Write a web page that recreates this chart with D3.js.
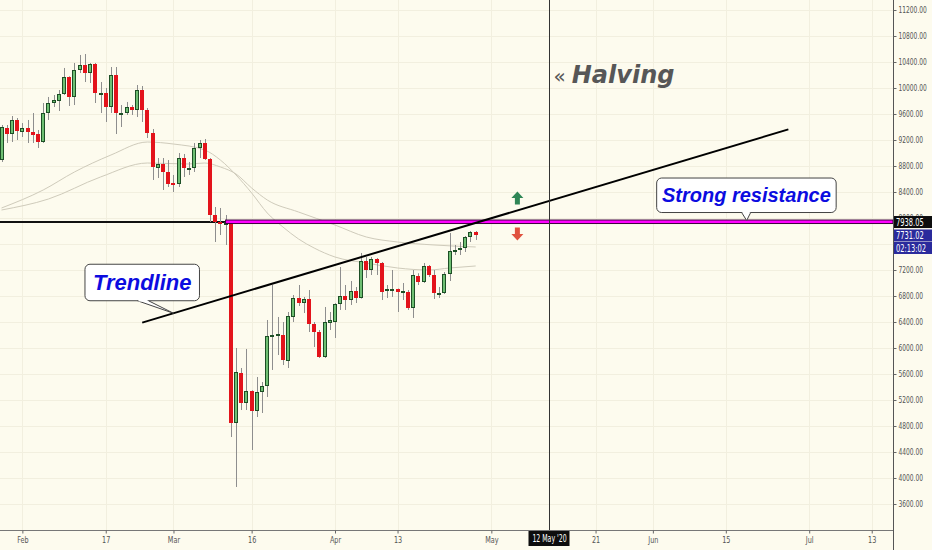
<!DOCTYPE html>
<html>
<head>
<meta charset="utf-8">
<script src="https://cdn.jsdelivr.net/npm/d3@7"></script>
<style>
  body { margin: 0; background: #fdfbee; }
  svg { display: block; }
  .axis text { font-family: "DejaVu Sans", sans-serif; font-size: 9px; fill: #555; }
  .axis line { stroke: #666; }
</style>
</head>
<body>
<svg id="chart" width="932" height="550"></svg>
<script>
// Daily candles, BTC, late Jan - late Apr 2020
const candleDates = [
  "2020-01-28","2020-01-29","2020-01-30","2020-01-31",
  "2020-02-01","2020-02-02","2020-02-03","2020-02-04","2020-02-05","2020-02-06","2020-02-07","2020-02-08","2020-02-09","2020-02-10",
  "2020-02-11","2020-02-12","2020-02-13","2020-02-14","2020-02-15","2020-02-16","2020-02-17","2020-02-18","2020-02-19","2020-02-20",
  "2020-02-21","2020-02-22","2020-02-23","2020-02-24","2020-02-25","2020-02-26","2020-02-27","2020-02-28","2020-02-29",
  "2020-03-01","2020-03-02","2020-03-03","2020-03-04","2020-03-05","2020-03-06","2020-03-07","2020-03-08","2020-03-09","2020-03-10",
  "2020-03-11","2020-03-12","2020-03-13","2020-03-14","2020-03-15","2020-03-16","2020-03-17","2020-03-18","2020-03-19","2020-03-20",
  "2020-03-21","2020-03-22","2020-03-23","2020-03-24","2020-03-25","2020-03-26","2020-03-27","2020-03-28","2020-03-29","2020-03-30","2020-03-31",
  "2020-04-01","2020-04-02","2020-04-03","2020-04-04","2020-04-05","2020-04-06","2020-04-07","2020-04-08","2020-04-09","2020-04-10",
  "2020-04-11","2020-04-12","2020-04-13","2020-04-14","2020-04-15","2020-04-16","2020-04-17","2020-04-18","2020-04-19","2020-04-20",
  "2020-04-21","2020-04-22","2020-04-23","2020-04-24","2020-04-25","2020-04-26","2020-04-27","2020-04-28"
];
const opens = [
  8892, 9385, 9292, 9508,
  9323, 9385, 9323, 9292, 9169, 9615, 9769, 9800, 9908, 10169,
  9862, 10277, 10354, 10231, 10369, 9915, 9923, 9708, 10200, 9585,
  9615, 9708, 9662, 9969, 9662, 9308, 8769, 8831, 8708,
  8538, 8523, 8923, 8765, 8769, 9077, 9154, 8908, 8046, 7938,
  7892, 7938, 4846, 5615, 5154, 5338, 5031, 5323, 5415, 6169,
  6200, 6200, 5800, 6477, 6769, 6692, 6754, 6369, 6246, 5862, 6385,
  6400, 6677, 6800, 6738, 6877, 6769, 7338, 7200, 7369, 7308,
  6877, 6892, 6908, 6862, 6862, 6615, 7108, 7015, 7262, 7123,
  6831, 6846, 7138, 7477, 7508, 7538, 7708, 7785
];
const highs = [
  9431, 9431, 9569, 9538,
  9461, 9508, 9615, 9354, 9769, 9862, 9892, 9969, 10308, 10180,
  10385, 10508, 10523, 10385, 10385, 10092, 10000, 10323, 10323, 9738,
  9785, 9738, 10046, 10031, 9692, 9369, 8923, 8923, 8892,
  8662, 9000, 8985, 8862, 9154, 9200, 9215, 8923, 8169, 8154,
  8046, 7950, 6000, 5692, 5985, 5350, 5554, 5477, 6431, 6969,
  6477, 6400, 6554, 6815, 6969, 6785, 6892, 6400, 6277, 6631, 6554,
  6690, 7246, 6969, 7031, 6938, 7462, 7400, 7400, 7385, 7323,
  6969, 7200, 6915, 7000, 6892, 7200, 7150, 7308, 7277, 7200,
  6938, 7169, 7769, 7585, 7631, 7723, 7800, 7800
];
const lows = [
  8862, 9154, 9169, 9200,
  9246, 9154, 9154, 9077, 9154, 9508, 9708, 9646, 9892, 9723,
  9738, 10231, 10092, 10077, 9769, 9615, 9477, 9615, 9292, 9400,
  9585, 9585, 9554, 9477, 9231, 8585, 8615, 8431, 8477,
  8400, 8477, 8631, 8662, 8708, 8923, 8892, 7938, 7631, 7738,
  7585, 4631, 3862, 5046, 5046, 4431, 4938, 5000, 5246, 5662,
  5892, 5738, 5692, 6400, 6646, 6538, 6246, 6015, 5846, 5846, 6277,
  6154, 6585, 6585, 6662, 6692, 6760, 7077, 7123, 7123, 6738,
  6769, 6785, 6554, 6738, 6585, 6462, 6969, 7000, 7092, 6754,
  6769, 6831, 7031, 7431, 7431, 7477, 7631, 7662
];
const closes = [
  9400, 9292, 9508, 9338,
  9385, 9323, 9277, 9169, 9615, 9769, 9815, 9908, 10169, 9862,
  10277, 10354, 10231, 10369, 9923, 9923, 9708, 10200, 9615, 9615,
  9708, 9662, 9969, 9662, 9308, 8785, 8831, 8708, 8523,
  8523, 8923, 8769, 8769, 9077, 9154, 8908, 8046, 7938, 7908,
  7938, 4846, 5631, 5154, 5338, 5031, 5323, 5415, 6185, 6200,
  6215, 5815, 6492, 6769, 6692, 6754, 6369, 6246, 5862, 6400, 6431,
  6677, 6800, 6738, 6877, 6769, 7338, 7200, 7369, 7308, 6862,
  6908, 6908, 6862, 6877, 6615, 7123, 7015, 7262, 7123, 6846,
  6846, 7138, 7492, 7508, 7538, 7708, 7785, 7731.02
];

// moving averages
const fastMaDates = ["2020-01-28","2020-02-05","2020-02-11","2020-02-18","2020-02-25","2020-03-01","2020-03-07","2020-03-10","2020-03-13",
  "2020-03-16","2020-03-19","2020-03-22","2020-03-25","2020-03-28","2020-04-01","2020-04-07","2020-04-13","2020-04-19","2020-04-23","2020-04-28"];
const fastMa = [8154, 8431, 8708, 8969, 9169, 9138, 9046, 8892, 8662, 8385, 8077, 7862, 7677, 7538, 7400, 7308, 7231, 7200, 7231, 7262];
const slowMaDates = ["2020-01-28","2020-02-06","2020-02-16","2020-02-25","2020-03-04","2020-03-07","2020-03-10","2020-03-13","2020-03-16",
  "2020-03-19","2020-03-25","2020-04-01","2020-04-07","2020-04-13","2020-04-20","2020-04-28"];
const slowMa = [8123, 8292, 8631, 8846, 8831, 8846, 8785, 8677, 8462, 8277, 8092, 7892, 7708, 7631, 7585, 7554];

// drawings
const resistancePrice = 7938.05;
const resistanceStart = "2020-03-11";
const trendDates = ["2020-02-24", "2020-06-27"];
const trendPrices = [6391, 9363];
const halvingDate = "2020-05-12";
const lastPrice = 7731.02;
const countdown = "02:13:02";

// axes
const priceTicks = d3.range(3600, 11201, 400);
const dateTicks = ["2020-02-01","2020-02-17","2020-03-01","2020-03-16","2020-04-01","2020-04-13","2020-05-01","2020-05-21","2020-06-01","2020-06-15","2020-07-01","2020-07-13"];
const dateLabels = ["Feb","17","Mar","16","Apr","13","May","21","Jun","15","Jul","13"];

const parse = d3.utcParse("%Y-%m-%d");
const W = 932, H = 550, plotW = 893, axisY = 530;

const svg = d3.select("#chart");

// squeeze text horizontally, the scale font is a narrow one
function squeeze(sel, f) {
  sel.each(function () {
    const w = this.getComputedTextLength();
    d3.select(this).attr("textLength", w * f).attr("lengthAdjust", "spacingAndGlyphs");
  });
}

const x = d3.scaleUtc()
  .domain([new Date(Date.UTC(2020, 0, 27, 17)), new Date(Date.UTC(2020, 6, 17, 2))])
  .range([0, plotW]);
const y = d3.scaleLinear().domain([3600, 11200]).range([504, 10]);

svg.append("rect").attr("width", W).attr("height", H).attr("fill", "#fdfbee");

// grid
const grid = svg.append("g").attr("stroke", "#f2efdf").attr("stroke-width", 1);
grid.selectAll(".hg").data(priceTicks).join("line").attr("class", "hg")
  .attr("x1", 0).attr("x2", plotW)
  .attr("y1", d => Math.round(y(d)) + 0.5).attr("y2", d => Math.round(y(d)) + 0.5);
grid.selectAll(".vg").data(dateTicks).join("line").attr("class", "vg")
  .attr("y1", 0).attr("y2", axisY)
  .attr("x1", d => Math.round(x(parse(d))) + 0.5).attr("x2", d => Math.round(x(parse(d))) + 0.5);

// moving averages
const maLine = d3.line().x(d => x(d[0])).y(d => y(d[1])).curve(d3.curveMonotoneX);
svg.append("path")
  .attr("d", maLine(slowMaDates.map((d, i) => [parse(d), slowMa[i]])))
  .attr("fill", "none").attr("stroke", "#cfcbbb").attr("stroke-width", 1);
svg.append("path")
  .attr("d", maLine(fastMaDates.map((d, i) => [parse(d), fastMa[i]])))
  .attr("fill", "none").attr("stroke", "#cfcbbb").attr("stroke-width", 1);

// horizontal black ray (behind the candles)
const ry = y(resistancePrice);
svg.append("line").attr("x1", 0).attr("x2", plotW).attr("y1", ry).attr("y2", ry)
  .attr("stroke", "#111").attr("stroke-width", 2);

// candles
const candles = candleDates.map((d, i) => ({ date: parse(d), o: opens[i], h: highs[i], l: lows[i], c: closes[i] }));
const cg = svg.append("g");
cg.selectAll("line").data(candles).join("line")
  .attr("x1", d => Math.round(x(d.date)) + 0.5).attr("x2", d => Math.round(x(d.date)) + 0.5)
  .attr("y1", d => y(d.h)).attr("y2", d => y(d.l))
  .attr("stroke", "#8e8e8e").attr("stroke-width", 1);
cg.selectAll("rect").data(candles).join("rect")
  .attr("x", d => Math.round(x(d.date)) - 1.5)
  .attr("y", d => Math.round(y(Math.max(d.o, d.c))) + 0.5)
  .attr("width", 3)
  .attr("height", d => Math.max(1, Math.round(y(Math.min(d.o, d.c))) - Math.round(y(Math.max(d.o, d.c))) - 1))
  .attr("fill", d => d.c >= d.o ? "#6fbf73" : "#e3131b")
  .attr("stroke", d => d.c >= d.o ? "#1d4f26" : "#e3131b")
  .attr("stroke-width", 1);

// magenta resistance
svg.append("rect")
  .attr("x", x(parse(resistanceStart))).attr("y", ry - 2)
  .attr("width", plotW - x(parse(resistanceStart))).attr("height", 3.5)
  .attr("fill", "#ff00ff").attr("stroke", "#3c003c").attr("stroke-width", 1);

// trendline
svg.append("line")
  .attr("x1", x(parse(trendDates[0]))).attr("y1", y(trendPrices[0]))
  .attr("x2", x(parse(trendDates[1]))).attr("y2", y(trendPrices[1]))
  .attr("stroke", "#000").attr("stroke-width", 2);

// halving crosshair
const hx = Math.round(x(parse(halvingDate))) + 0.5;
svg.append("line").attr("x1", hx).attr("x2", hx).attr("y1", 0).attr("y2", axisY + 2)
  .attr("stroke", "#333").attr("stroke-width", 1);
const ht = svg.append("text").attr("x", hx + 4).attr("y", 83).attr("fill", "#575757");
ht.append("tspan").text("«").attr("font-family", "DejaVu Sans").attr("font-size", 20);
ht.append("tspan").text("Halving").attr("dx", 6)
  .attr("font-family", "DejaVu Sans").attr("font-weight", "bold").attr("font-style", "italic").attr("font-size", 24);

// arrows next to the resistance
const ax = x(parse("2020-05-06"));
const upArrow = `M${ax},${ry - 30.5} L${ax + 6},${ry - 24} L${ax + 2.5},${ry - 24} L${ax + 2.5},${ry - 17.5} L${ax - 2.5},${ry - 17.5} L${ax - 2.5},${ry - 24} L${ax - 6},${ry - 24} Z`;
const downArrow = `M${ax},${ry + 18.5} L${ax + 6},${ry + 12} L${ax + 2.5},${ry + 12} L${ax + 2.5},${ry + 5.5} L${ax - 2.5},${ry + 5.5} L${ax - 2.5},${ry + 12} L${ax - 6},${ry + 12} Z`;
svg.append("path").attr("d", upArrow).attr("fill", "#2f8656");
svg.append("path").attr("d", downArrow).attr("fill", "#e0523f");

// callouts
function callout(tipX, tipY, box, base, label, size) {
  const g = svg.append("g");
  g.append("rect")
    .attr("x", tipX + box.left).attr("y", tipY + box.top)
    .attr("width", box.right - box.left).attr("height", box.bottom - box.top)
    .attr("rx", 5).attr("fill", "#fff").attr("stroke", "#444").attr("stroke-width", 1);
  const by = tipY + box.bottom;
  g.append("path")
    .attr("d", `M${tipX + base[0]},${by} L${tipX},${tipY} L${tipX + base[1]},${by}`)
    .attr("fill", "#fff").attr("stroke", "#444").attr("stroke-width", 1);
  g.append("line").attr("x1", tipX + base[0] + 1).attr("x2", tipX + base[1] - 1).attr("y1", by).attr("y2", by)
    .attr("stroke", "#fff").attr("stroke-width", 1.5);
  g.append("text")
    .attr("x", tipX + (box.left + box.right) / 2).attr("y", tipY + (box.top + box.bottom) / 2 + size * 0.36)
    .attr("text-anchor", "middle")
    .attr("font-family", "Liberation Sans, Arial, sans-serif").attr("font-weight", "bold").attr("font-style", "italic")
    .attr("font-size", size).attr("fill", "#0c0ce0")
    .text(label);
}
const srX = x(parse("2020-06-19"));
callout(srX, ry - 1.5, { left: -90, right: 89.5, top: -42.5, bottom: -8 }, [-5, 4], "Strong resistance", 20);

const tlDate = parse("2020-03-01");
const t0 = parse(trendDates[0]), t1 = parse(trendDates[1]);
const tlPrice = trendPrices[0] + (trendPrices[1] - trendPrices[0]) * (tlDate - t0) / (t1 - t0);
callout(x(tlDate), y(tlPrice), { left: -88.5, right: 26, top: -49, bottom: -12.5 }, [-36, -25], "Trendline", 22);

// axis frame
svg.append("line").attr("x1", plotW + 0.5).attr("x2", plotW + 0.5).attr("y1", 0).attr("y2", H)
  .attr("stroke", "#555").attr("stroke-width", 1);
svg.append("line").attr("x1", 0).attr("x2", plotW).attr("y1", axisY + 0.5).attr("y2", axisY + 0.5)
  .attr("stroke", "#777").attr("stroke-width", 1);

// price scale; the label that sits fully under the blue tags is hidden, as on the original
const hiddenTick = d => Math.abs(y(d) - y(lastPrice)) < 10;
svg.append("g").attr("class", "axis")
  .attr("transform", `translate(${plotW + 0.5},0)`)
  .call(d3.axisRight(y).tickValues(priceTicks).tickFormat(d3.format(".2f")).tickSize(3).tickPadding(2))
  .call(g => g.select(".domain").remove())
  .call(g => g.selectAll(".tick").filter(hiddenTick).select("text").remove())
  .call(g => squeeze(g.selectAll("text"), 0.66));

svg.append("g").attr("class", "axis")
  .attr("transform", `translate(0,${axisY + 0.5})`)
  .call(d3.axisBottom(x).tickValues(dateTicks.map(parse)).tickFormat((d, i) => dateLabels[i]).tickSize(3).tickPadding(3))
  .call(g => g.select(".domain").remove())
  .call(g => squeeze(g.selectAll("text"), 0.72));

// price tags on the right scale
function tag(cy, fill, label) {
  svg.append("rect").attr("x", plotW + 1).attr("y", cy - 6).attr("width", W - plotW - 1).attr("height", 12).attr("fill", fill);
  svg.append("text").attr("x", plotW + 3).attr("y", cy + 3.8)
    .attr("font-family", "DejaVu Sans").attr("font-size", 10).attr("fill", "#fff").text(label)
    .call(t => squeeze(t, 0.67));
}
tag(ry, "#0d0d0d", d3.format(".2f")(resistancePrice));
tag(y(lastPrice), "#2a2a9c", d3.format(".2f")(lastPrice));
tag(y(lastPrice) + 12.5, "#2a2a9c", countdown);

// crosshair date label
svg.append("rect").attr("x", hx - 21).attr("y", axisY + 1).attr("width", 41).attr("height", 15).attr("fill", "#0d0d0d");
svg.append("text").attr("x", hx).attr("y", axisY + 12).attr("text-anchor", "middle")
  .attr("font-family", "DejaVu Sans").attr("font-size", 10).attr("fill", "#fff")
  .text(d3.utcFormat("%-d %b '%y")(parse(halvingDate)))
  .call(t => squeeze(t, 0.62));
</script>
</body>
</html>
